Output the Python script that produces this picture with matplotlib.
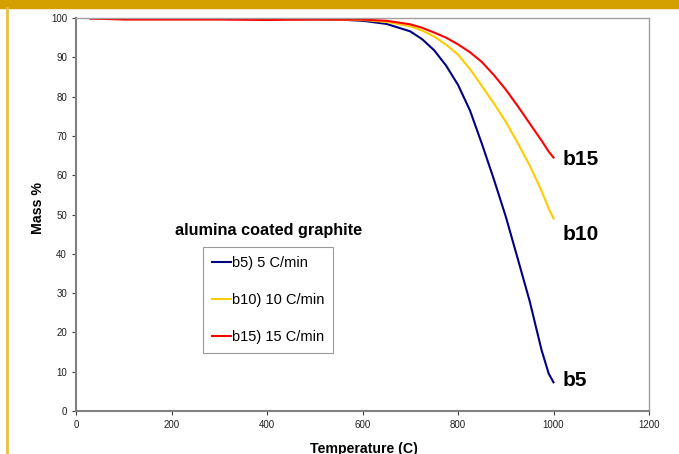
import matplotlib.pyplot as plt
from matplotlib.lines import Line2D
from matplotlib.patches import Rectangle

plt.rcParams['font.family'] = ['Liberation Sans', 'DejaVu Sans']

# temperature (C)
temp = [30, 100, 200, 300, 400, 500, 550, 600, 650, 700, 725, 750, 775, 800,
        825, 850, 875, 900, 925, 950, 975, 990, 1000]

mass_b5 = [99.9, 99.8, 99.8, 99.8, 99.8, 99.7, 99.6, 99.3, 98.5, 96.6, 94.6, 91.8,
           87.9, 83.0, 76.5, 68.0, 59.0, 49.5, 38.8, 28.0, 15.5, 9.5, 7.3]
mass_b10 = [99.9, 99.8, 99.8, 99.8, 99.8, 99.7, 99.6, 99.5, 99.0, 97.9, 96.8, 95.3,
            93.2, 90.7, 87.0, 82.7, 78.3, 73.6, 68.2, 62.5, 56.0, 51.5, 49.0]
mass_b15 = [99.9, 99.6, 99.6, 99.6, 99.5, 99.6, 99.6, 99.6, 99.3, 98.4, 97.5, 96.3,
            95.0, 93.3, 91.3, 88.8, 85.5, 81.8, 77.6, 73.2, 68.8, 66.0, 64.5]

labels = ['b5) 5 C/min', 'b10) 10 C/min', 'b15) 15 C/min']
end_tags = ['b5', 'b10', 'b15']
tag_y = [7.8, 45, 64]

fig = plt.figure(figsize=(6.79, 4.54), dpi=100)
ax = fig.add_axes([76 / 679, 1 - 411 / 454, 573 / 679, 393 / 454])

# slide decoration: gold band on top, thin yellow line on the left
fig.patches.append(Rectangle((0, 1 - 8 / 454), 1, 8 / 454, transform=fig.transFigure,
                             color='#D4A000', zorder=0))
fig.lines.append(Line2D([6.5 / 679, 6.5 / 679], [0, 1 - 8 / 454], transform=fig.transFigure,
                        color='#E8C040', lw=2))

ax.plot(temp, mass_b5, color='#000080', lw=1.5, label=labels[0])
ax.plot(temp, mass_b10, color='#FFCC00', lw=1.5, label=labels[1])
ax.plot(temp, mass_b15, color='#FF0000', lw=1.5, label=labels[2])

for tag, ty in zip(end_tags, tag_y):
    ax.text(1020, ty, tag, fontsize=15, fontweight='bold', va='center', ha='left')

ax.text(404, 46, 'alumina coated graphite', fontsize=11.7, fontweight='bold',
        ha='center', va='center')

leg = ax.legend(loc='upper left', bbox_to_anchor=(0.2216, 0.4173), borderaxespad=0,
                fontsize=10.5, fancybox=False, edgecolor='#808080', labelspacing=1.6,
                handlelength=1.35, handletextpad=0.05, borderpad=0.6)
leg.get_frame().set_linewidth(0.8)

ax.set_xlim(0, 1200)
ax.set_ylim(0, 100)
ax.set_xticks(range(0, 1201, 200))
ax.set_yticks(range(0, 101, 10))
ax.tick_params(labelsize=7, length=3, color='#404040', labelcolor='#202020')

ax.set_xlabel('Temperature (C)', fontsize=10.2, fontweight='bold')
ax.set_ylabel('Mass %', fontsize=10.2, fontweight='bold')
ax.xaxis.set_label_coords(0.5026, -0.0789)
ax.yaxis.set_label_coords(-0.0541, 0.5165)

for side in ['left', 'bottom']:
    ax.spines[side].set_color('#808080')
    ax.spines[side].set_linewidth(1.5)
for side in ['right', 'top']:
    ax.spines[side].set_color('#A0A0A0')
    ax.spines[side].set_linewidth(1.0)

fig.savefig('out.png', dpi=100)
